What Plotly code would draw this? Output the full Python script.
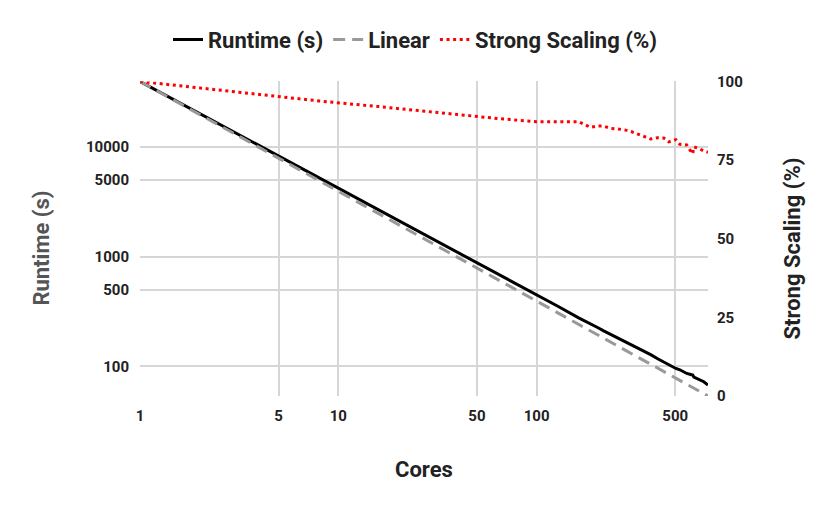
import plotly.graph_objects as go

# Data
cores = [1, 2, 4, 8, 16, 32, 64, 100, 128, 163, 187, 203, 218, 236, 257, 278,
         302, 324, 347, 376, 408, 438, 464, 504, 528, 572, 593, 613, 621, 658,
         697, 732]
runtime_s = [39330, 20087, 10253, 5241, 2672, 1365.6, 696.7, 451.0, 352.4,
             276.7, 246.3, 225.8, 210.3, 195.9, 180.2, 167.2, 155.0, 145.7,
             137.4, 128.0, 117.4, 109.5, 104.9, 95.7, 93.1, 86.2, 84.8, 83.3,
             80.0, 75.9, 72.4, 67.5]
strong_scaling_pct = [100, 97.9, 95.9, 93.8, 92.0, 90.0, 88.2, 87.2, 87.2,
                      87.2, 85.4, 85.8, 85.8, 85.1, 84.9, 84.6, 84.0, 83.3,
                      82.5, 81.7, 82.1, 82.0, 80.8, 81.5, 80.0, 79.8, 78.2,
                      77.0, 79.2, 78.7, 77.9, 77.5]
linear_cores = [1, 732]
linear_runtime = [39330, 53.73]

x_ticks = [1, 5, 10, 50, 100, 500]
y_ticks = [100, 500, 1000, 5000, 10000]
y2_ticks = [0, 25, 50, 75, 100]

FONT = "Roboto"
TXT = "#222222"
TICK = dict(family=FONT, size=15, color=TXT, weight="bold")
BIG = 22

fig = go.Figure()
fig.add_trace(go.Scatter(x=cores, y=runtime_s, name="Runtime (s)", mode="lines",
                         legendgroup="a",
                         line=dict(color="#000000", width=3)))
fig.add_trace(go.Scatter(x=linear_cores, y=linear_runtime, name="Linear", mode="lines",
                         legendgroup="b",
                         line=dict(color="#999999", width=3, dash="12px,7px")))
fig.add_trace(go.Scatter(x=cores, y=strong_scaling_pct, name="Strong Scaling (%)",
                         mode="lines", yaxis="y2", legendgroup="c",
                         line=dict(color="#ff0000", width=3, dash="3px,3.6px")))

fig.update_layout(
    width=830, height=509,
    margin=dict(l=140, r=122, t=78, b=113),
    paper_bgcolor="white", plot_bgcolor="white",
    font=dict(family=FONT, size=15, color=TXT, weight="bold"),
    showlegend=True,
    legend=dict(orientation="h", xref="container", x=0.5, xanchor="center",
                yref="container", y=0.922, yanchor="middle",
                font=dict(family=FONT, size=BIG, color=TXT, weight="bold"),
                itemwidth=30, tracegroupgap=18),
    xaxis=dict(type="log", range=[0, 2.8645], tickvals=x_ticks,
               ticktext=[str(v) for v in x_ticks],
               showgrid=True, gridcolor="#d6d6d6", gridwidth=2,
               zeroline=False, showline=False, ticks="", ticklabelstandoff=9,
               tickfont=TICK),
    yaxis=dict(type="log", range=[1.7302, 4.5947], tickvals=y_ticks,
               ticktext=[str(v) for v in y_ticks],
               showgrid=True, gridcolor="#d6d6d6", gridwidth=2,
               zeroline=False, showline=False, ticks="", ticklabelstandoff=10,
               tickfont=TICK),
    yaxis2=dict(overlaying="y", side="right", range=[0, 100], tickvals=y2_ticks,
                showgrid=False, zeroline=False, showline=False, ticks="",
                ticklabelstandoff=8, tickfont=TICK),
    annotations=[
        dict(text="Cores", xref="paper", yref="paper", x=0.5, y=-0.2327,
             showarrow=False, xanchor="center", yanchor="middle",
             font=dict(family=FONT, size=BIG, color=TXT, weight="bold")),
        dict(text="Runtime (s)", xref="paper", yref="paper", x=-0.1725, y=0.4686,
             textangle=-90, showarrow=False, xanchor="center", yanchor="middle",
             font=dict(family=FONT, size=BIG, color="#555555", weight="bold")),
        dict(text="Strong Scaling (%)", xref="paper", yref="paper", x=1.1496, y=0.4686,
             textangle=-90, showarrow=False, xanchor="center", yanchor="middle",
             font=dict(family=FONT, size=BIG, color=TXT, weight="bold")),
    ],
)

fig.write_html("out.html", config={"displayModeBar": False},
               post_script="document.body.style.margin='0';")
